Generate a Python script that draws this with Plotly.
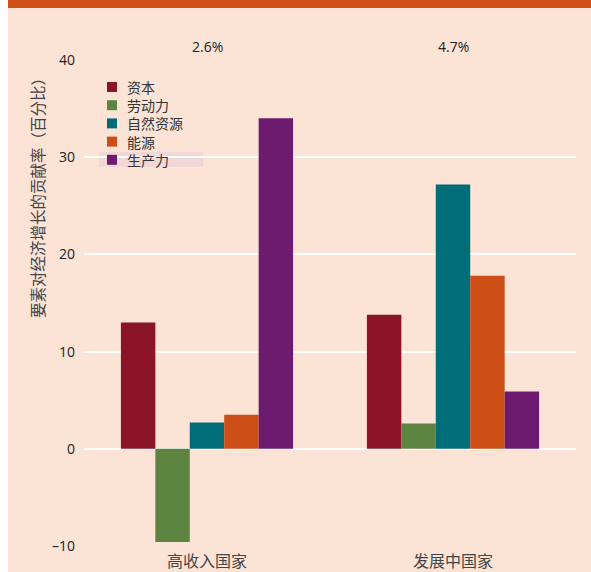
import plotly.graph_objects as go

CATEGORIES = ["高收入国家", "发展中国家"]
GROWTH_LABELS = ["2.6%", "4.7%"]

SERIES_NAMES = ["资本", "劳动力", "自然资源", "能源", "生产力"]
SERIES_COLORS = ["#8A1428", "#5E8441", "#006D79", "#CD4E17", "#6D1B6E"]
SERIES_VALUES = [
    [13.0, 13.8],   # 资本
    [-9.6, 2.6],    # 劳动力
    [2.7, 27.2],    # 自然资源
    [3.5, 17.8],    # 能源
    [34.0, 5.9],    # 生产力
]

Y_TICKS = [-10, 0, 10, 20, 30, 40]
Y_TICK_TEXT = ["\u201310", "0", "10", "20", "30", "40"]

BG = "#FBE3D6"
CJK = "Noto Sans CJK SC"

# plot area in pixels: x 84..576, y 60..546
PLOT_H = 486.0


def py(pix):
    # pixel row -> paper y
    return 1 - (pix - 60) / PLOT_H


fig = go.Figure()

for name, color, vals in zip(SERIES_NAMES, SERIES_COLORS, SERIES_VALUES):
    fig.add_trace(
        go.Bar(
            x=CATEGORIES,
            y=vals,
            name=name,
            marker=dict(color=color, line=dict(width=0)),
        )
    )

shapes = [
    # white strip on the left edge
    dict(type="rect", xref="paper", yref="paper",
         x0=-0.2, x1=-0.1545, y0=-0.06, y1=1.13,
         fillcolor="white", line=dict(width=0)),
    # orange band on top
    dict(type="rect", xref="paper", yref="paper",
         x0=-0.1545, x1=1.04, y0=py(8), y1=1.13,
         fillcolor="#D04F16", line=dict(width=0)),
    # faint highlight behind the last legend entry
    dict(type="rect", xref="paper", yref="paper", layer="below",
         x0=0.0305, x1=0.242, y0=py(167), y1=py(152),
         fillcolor="#F3D6D6", line=dict(width=0)),
]

# hand-placed legend: one multi-line text block (14px font -> ~18px rows)
LEG_FONT = 14
ROW = LEG_FONT * 1.3
for i, color in enumerate(SERIES_COLORS):
    cy = 87 + ROW * i
    shapes.append(
        dict(type="rect", xref="paper", yref="paper",
             x0=0.0467, x1=0.0671, y0=py(cy + 5), y1=py(cy - 5),
             fillcolor=color, line=dict(width=0))
    )
fig.add_annotation(
    x=0.0854, y=py(87 + ROW * 2), xref="paper", yref="paper",
    xanchor="left", yanchor="middle", align="left",
    text="<br>".join(SERIES_NAMES), showarrow=False, borderpad=0,
    font=dict(family=CJK, size=LEG_FONT, color="#333333"),
)

# growth rate labels above each group
for cat, txt in zip(CATEGORIES, GROWTH_LABELS):
    fig.add_annotation(
        x=cat, y=py(47), xref="x", yref="paper", yanchor="middle",
        text=txt, showarrow=False,
        font=dict(family="Open Sans", size=14, color="#222222"),
    )

# y-axis title placed by hand (sits higher than centre in the original)
fig.add_annotation(
    x=(37 - 84) / 492, y=py(194), xref="paper", yref="paper",
    xanchor="center", yanchor="middle",
    text="要素对经济增长的贡献率（百分比）", textangle=-90,
    showarrow=False, font=dict(family=CJK, size=15.5, color="#444444"),
)

fig.update_layout(
    width=591,
    height=572,
    margin=dict(l=84, r=15, t=60, b=26),
    paper_bgcolor=BG,
    plot_bgcolor=BG,
    barmode="group",
    bargap=0.3,
    bargroupgap=0,
    font=dict(family=CJK, size=13, color="#333333"),
    showlegend=False,
    xaxis=dict(
        showgrid=False, showline=False, ticks="", automargin=False,
        ticklabelstandoff=4,
        tickfont=dict(family=CJK, size=16, color="#444444"),
    ),
    yaxis=dict(
        range=[-10, 40],
        tickvals=Y_TICKS,
        ticktext=Y_TICK_TEXT,
        showgrid=True, gridcolor="white", gridwidth=2,
        zeroline=True, zerolinecolor="white", zerolinewidth=2,
        showline=False, ticks="", ticklabelstandoff=8, automargin=False,
        tickfont=dict(family="Open Sans", size=14, color="#222222"),
    ),
    shapes=shapes,
)

fig.write_html(
    "out.html",
    config={"displayModeBar": False},
    post_script="document.body.style.margin='0';document.body.style.overflow='hidden';",
)
